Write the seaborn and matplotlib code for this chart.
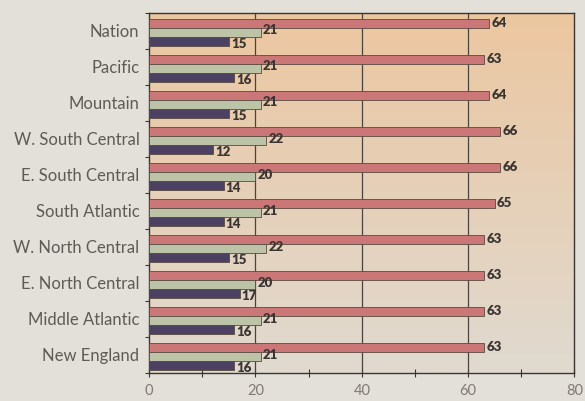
import matplotlib
matplotlib.use("Agg")
import matplotlib.pyplot as plt
import seaborn as sns
import numpy as np
import pandas as pd
from matplotlib.ticker import MultipleLocator, FixedLocator
from matplotlib.colors import LinearSegmentedColormap

regions = ["Nation", "Pacific", "Mountain", "W. South Central", "E. South Central",
           "South Atlantic", "W. North Central", "E. North Central",
           "Middle Atlantic", "New England"]
series_a = [64, 63, 64, 66, 66, 65, 63, 63, 63, 63]
series_b = [21, 21, 21, 22, 20, 21, 22, 20, 21, 21]
series_c = [15, 16, 15, 12, 14, 14, 15, 17, 16, 16]
series_names = ["A", "B", "C"]
colors = ["#d9696b", "#bec7a3", "#4b3b69"]
x_ticks = [0, 20, 40, 60, 80]

rows = []
for r, a, b, c in zip(regions, series_a, series_b, series_c):
    for name, v in zip(series_names, (a, b, c)):
        rows.append({"region": r, "series": name, "value": v})
df = pd.DataFrame(rows)

sns.set_theme(style="white")
plt.rcParams["font.family"] = ["Lato", "DejaVu Sans"]

fig = plt.figure(figsize=(5.85, 4.01), dpi=100)
fig.patch.set_facecolor("#e3e0d9")
ax = fig.add_axes([0.255, 0.070, 0.727, 0.898])

sns.barplot(data=df, y="region", x="value", hue="series", order=regions,
            hue_order=series_names, palette=colors, orient="h", ax=ax,
            width=0.75, gap=0.06, edgecolor="#5a4a40", linewidth=0.6,
            legend=False, zorder=3)

ax.set_xlim(0, 80)
ax.set_ylim(9.5, -0.5)

# background gradient: peach at top fading to paper grey at bottom
cmap = LinearSegmentedColormap.from_list("bg", ["#ecc7a0", "#e6d0b8", "#e0dad0"])
grad = np.linspace(0, 1, 256).reshape(-1, 1)
ax.imshow(grad, aspect="auto", cmap=cmap, origin="upper",
          extent=[0, 80, 9.5, -0.5], zorder=0)
ax.set_xlim(0, 80)
ax.set_ylim(9.5, -0.5)

# nudge bars slightly down inside each band
shift = 0.04
for cont in ax.containers:
    for bar in cont:
        bar.set_y(bar.get_y() + shift)

# value labels
label_dy = [0.0, -0.05, 0.07]
for i, cont in enumerate(ax.containers):
    vals = df[df.series == series_names[i]]["value"].tolist()
    for bar, v in zip(cont, vals):
        y = bar.get_y() + bar.get_height() / 2
        ax.text(bar.get_width() + 0.4, y + label_dy[i], str(v), va="center",
                ha="left", fontsize=9.5, fontweight="heavy", color="#3a3532",
                zorder=5)

ax.set_xlabel("")
ax.set_ylabel("")
ax.xaxis.set_major_locator(FixedLocator(x_ticks))
ax.xaxis.set_minor_locator(MultipleLocator(10))
ax.set_xticklabels([str(t) for t in x_ticks], fontsize=10.5, color="#807a72")
ax.tick_params(axis="x", which="both", direction="inout", length=6, width=0.8,
               color="#3a3532", pad=5, bottom=True, top=False)
ax.tick_params(axis="y", which="major", length=0, labelsize=12,
               labelcolor="#5e5a55", pad=7)
ax.yaxis.set_minor_locator(FixedLocator(np.arange(-0.5, 10, 1.0)))
ax.tick_params(axis="y", which="minor", left=True, direction="out", length=3,
               width=0.8, color="#3a3532")
for xg in [20, 40, 60]:
    ax.axvline(xg, color="#4a4440", lw=0.9, zorder=1)
for s in ax.spines.values():
    s.set_color("#3a3532")
    s.set_linewidth(1.0)
    s.set_visible(True)

fig.savefig("out.png", dpi=100, facecolor=fig.get_facecolor())
